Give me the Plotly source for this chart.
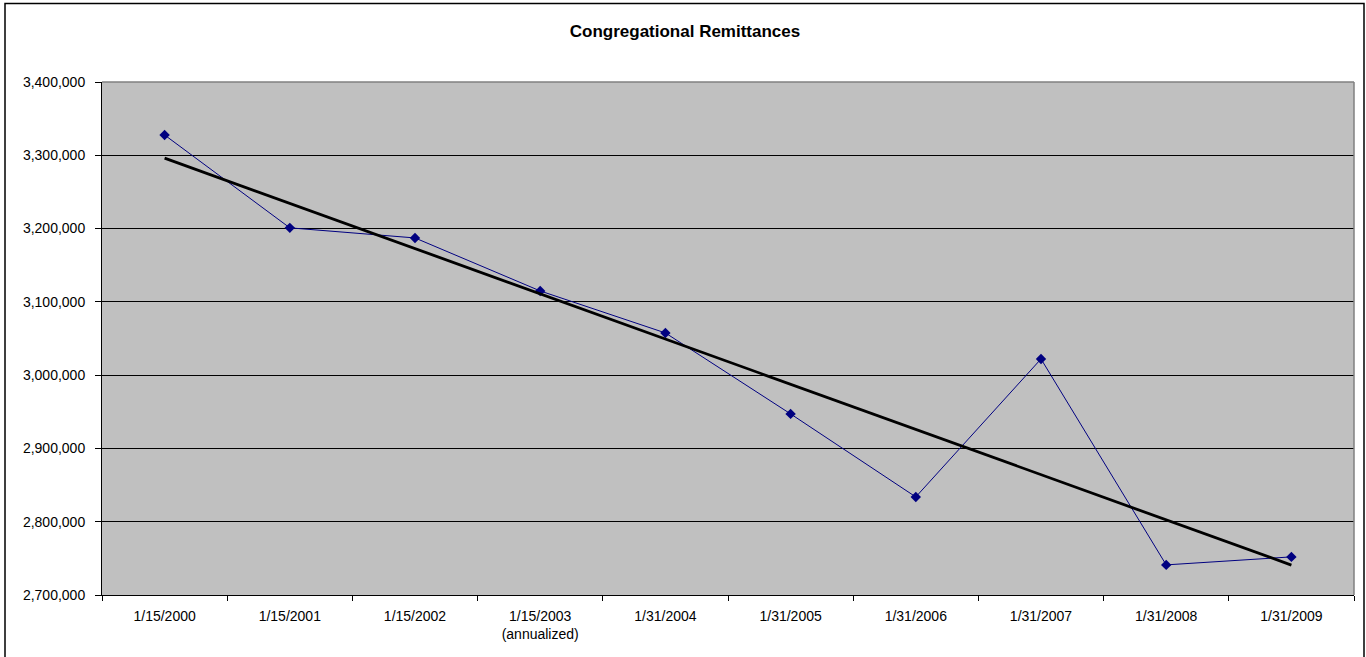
import numpy as np
import plotly.graph_objects as go

categories = ["1/15/2000", "1/15/2001", "1/15/2002", "1/15/2003<br>(annualized)", "1/31/2004",
              "1/31/2005", "1/31/2006", "1/31/2007", "1/31/2008", "1/31/2009"]
remittances = [3327700, 3201000, 3187200, 3114900, 3057600,
               2947100, 2833800, 3022100, 2741100, 2752000]
title_text = "Congregational Remittances"

# linear trendline (least squares, like Excel's linear trendline)
idx = np.arange(1, len(remittances) + 1)
slope, intercept = np.polyfit(idx, remittances, 1)
trend = slope * idx + intercept

W, H = 1366, 657
L, R, T, B = 102, 1354, 82, 595

def px(x):
    return (x - L) / (R - L)

def py(y):
    return (B - y) / (B - T)

fig = go.Figure()
fig.add_trace(go.Scatter(
    x=categories, y=remittances, mode="lines+markers",
    line=dict(color="#000080", width=1),
    marker=dict(symbol="diamond", size=8, color="#000080"),
    showlegend=False, hoverinfo="x+y"))
fig.add_trace(go.Scatter(
    x=categories, y=trend, mode="lines",
    line=dict(color="black", width=2.8),
    showlegend=False, hoverinfo="skip"))

font_family = "Liberation Sans, Arial, sans-serif"

fig.update_layout(
    width=W, height=H,
    margin=dict(l=L, r=W - R, t=T, b=H - B, pad=0),
    paper_bgcolor="white", plot_bgcolor="#C0C0C0",
    font=dict(family=font_family, size=14, color="black"),
    title=dict(text="<b>" + title_text + "</b>", x=685 / W, xanchor="center",
               y=1 - 31 / H, yanchor="middle",
               font=dict(family=font_family, size=17, color="black")),
    xaxis=dict(type="category", tickson="boundaries", ticks="outside", ticklen=5,
               tickcolor="black", tickwidth=1, showline=True, linecolor="black",
               linewidth=1, showgrid=False, zeroline=False, ticklabelstandoff=8,
               range=[-0.5, len(categories) - 0.5], tickangle=0),
    yaxis=dict(range=[2700000, 3400000], dtick=100000, tickformat=",d",
               ticks="outside", ticklen=6, tickcolor="black", tickwidth=1,
               showline=True, linecolor="black", linewidth=1, ticklabelstandoff=7,
               showgrid=True, gridcolor="black", gridwidth=1, zeroline=False),
    shapes=[
        # plot area gray border (top and right)
        dict(type="line", xref="paper", yref="paper", x0=0, x1=1, y0=1, y1=1,
             line=dict(color="#808080", width=1.5), layer="above"),
        dict(type="line", xref="paper", yref="paper", x0=1, x1=1, y0=0, y1=1,
             line=dict(color="#808080", width=1.5), layer="above"),
        # chart outer border
        dict(type="rect", xref="paper", yref="paper",
             x0=px(5), x1=px(1364), y0=py(3.5), y1=py(670),
             line=dict(color="black", width=1.5), fillcolor="rgba(0,0,0,0)",
             layer="above"),
    ],
)

fig.write_html("out.html", config={"displayModeBar": False},
               post_script="document.body.style.margin='0px';document.body.style.overflow='hidden';")
